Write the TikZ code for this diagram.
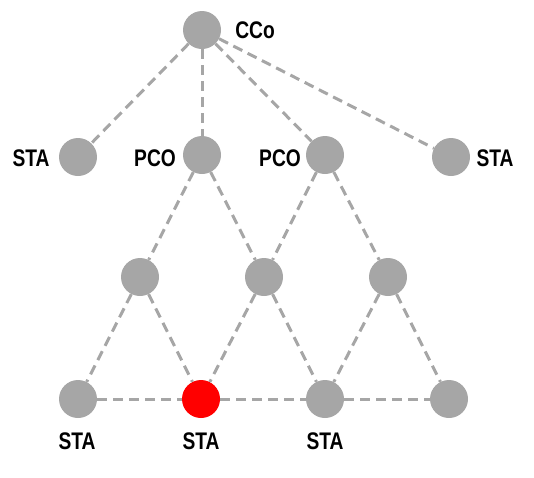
\documentclass[tikz,border=0pt]{standalone}
\usepackage{fontspec}
\setmainfont{Liberation Sans}[FakeStretch=0.8]
\begin{document}
\begin{tikzpicture}[x=1pt,y=-1pt,
  dot/.style={circle,fill=dotgray,minimum size=38pt,inner sep=0pt},
  reddot/.style={circle,fill=red,minimum size=38pt,inner sep=0pt},
  lbl/.style={font=\fontsize{24}{24}\selectfont\bfseries,inner sep=0pt},
  link/.style={draw=dotgray,line width=3pt,dash pattern=on 10pt off 6pt}]
\definecolor{dotgray}{HTML}{A6A6A6}
\useasboundingbox (0,0) rectangle (534,477);
% nodes
\node[dot] (cco) at (202,30) {};
\node[dot] (s1) at (78,157) {};
\node[dot] (p1) at (202,155) {};
\node[dot] (p2) at (325,155) {};
\node[dot] (s2) at (451,157) {};
\node[dot] (m1) at (140,277) {};
\node[dot] (m2) at (264,277) {};
\node[dot] (m3) at (388,277) {};
\node[dot] (b1) at (78,399) {};
\node[reddot] (b2) at (201,399) {};
\node[dot] (b3) at (325,399) {};
\node[dot] (b4) at (449,399) {};
% labels
\node[lbl] (lcco) at (255,30) {CCo};
\node[lbl] (ls1) at (31,158) {STA};
\node[lbl] (lp1) at (155,158) {PCO};
\node[lbl] (lp2) at (280,158) {PCO};
\node[lbl] (ls2) at (495,158) {STA};
\node[lbl] (lb1) at (77,441) {STA};
\node[lbl] (lb2) at (201,441) {STA};
\node[lbl] (lb3) at (325,441) {STA};
% links
\path[link] (cco) -- (s1);
\path[link] (cco) -- (p1);
\path[link] (cco) -- (p2);
\path[link] (cco) -- (s2);
\path[link] (p1) -- (m1);
\path[link] (p1) -- (m2);
\path[link] (p2) -- (m2);
\path[link] (p2) -- (m3);
\path[link] (m1) -- (b1);
\path[link] (m1) -- (b2);
\path[link] (m2) -- (b2);
\path[link] (m2) -- (b3);
\path[link] (m3) -- (b3);
\path[link] (m3) -- (b4);
\path[link] (b1) -- (b2);
\path[link] (b2) -- (b3);
\path[link] (b3) -- (b4);
\end{tikzpicture}
\end{document}
